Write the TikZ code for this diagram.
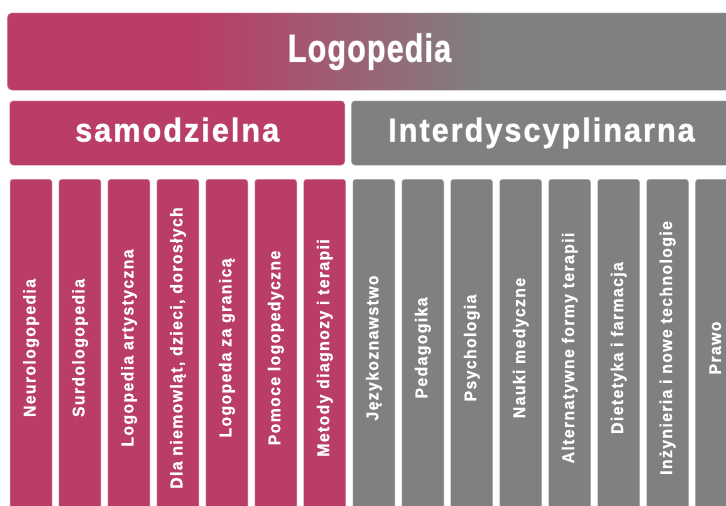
\documentclass[tikz,border=0pt]{standalone}
\usepackage{fontspec}
\setmainfont{Liberation Sans}
\definecolor{logopink}{RGB}{185,61,103}
\definecolor{logogrey}{RGB}{128,128,128}
\pgfdeclarehorizontalshading{logoshade}{100bp}{color(0bp)=(logopink); color(38bp)=(logopink); color(58bp)=(logogrey); color(100bp)=(logogrey)}
\tikzset{
  box/.style={draw=white, draw opacity=0.5, line width=1pt, text=white, inner sep=0pt},
  topbox/.style={box, rounded corners=5pt, minimum width=725, minimum height=78,
    shading=logoshade, text height=28.5, text depth=8,
    font=\fontsize{39}{44}\selectfont\bfseries\addfontfeature{FakeStretch=0.78,LetterSpace=3,FakeBold=2.5}},
  groupbox/.style={box, rounded corners=4pt, minimum height=65, text height=24, text depth=7,
    font=\fontsize{33}{38}\selectfont\bfseries\addfontfeature{FakeStretch=0.93,LetterSpace=6,FakeBold=2.5}},
  colbox/.style={box, rounded corners=3pt, rotate=90, minimum width=338, minimum height=42.5,
    text height=12.5, text depth=3.5,
    font=\fontsize{17}{20}\selectfont\bfseries\addfontfeature{FakeStretch=0.93,LetterSpace=8,FakeBold=2.5}}
}
\begin{document}
\begin{tikzpicture}[x=1pt,y=-1pt]
  \clip (0,0) rectangle (726,506);
  \node[topbox] (logo) at (369.5,51.5) {Logopedia};
  \node[groupbox, fill=logopink, minimum width=335.7] (samo) at (177.2,133) {samodzielna};
  \node[groupbox, fill=logogrey, minimum width=381] (inter) at (541.5,133) {Interdyscyplinarna};
  \foreach \name [count=\i from 0] in {Neurologopedia, Surdologopedia, Logopedia artystyczna,
      {Dla niemowląt, dzieci, dorosłych}, Logopeda za granicą, Pomoce logopedyczne,
      Metody diagnozy i terapii}
    \node[colbox, fill=logopink] (samo\i) at (31+48.95*\i,348) {\name};
  \foreach \name [count=\i from 0] in {Językoznawstwo, Pedagogika, Psychologia, Nauki medyczne,
      Alternatywne formy terapii, Dietetyka i farmacja, Inżynieria i nowe technologie, Prawo}
    \node[colbox, fill=logogrey] (inter\i) at (373.8+48.95*\i,348) {\name};
\end{tikzpicture}
\end{document}
